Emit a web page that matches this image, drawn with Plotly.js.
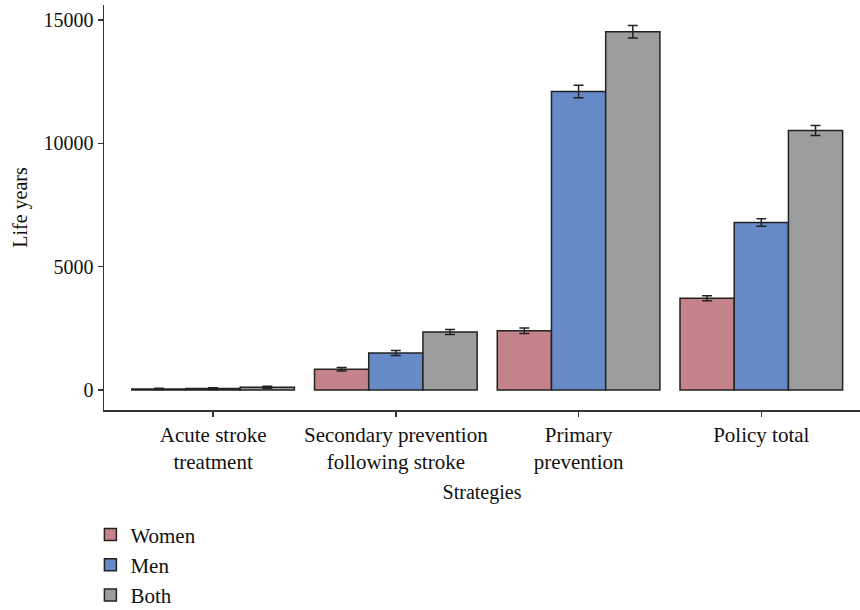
<!DOCTYPE html>
<html>
<head>
<meta charset="utf-8">
<script src="https://cdn.plot.ly/plotly-3.0.1.min.js"></script>
<style>html,body{margin:0;padding:0;background:#fff;}#chart{width:860px;height:610px;}</style>
</head>
<body>
<div id="chart"></div>
<script>
const categories = ["Acute stroke<br>treatment", "Secondary prevention<br>following stroke", "Primary<br>prevention", "Policy total"];
const seriesNames = ["Women", "Men", "Both"];
const womenValues = [45, 840, 2400, 3720];
const menValues = [60, 1500, 12100, 6790];
const bothValues = [110, 2350, 14520, 10520];
const womenErrors = [30, 70, 110, 100];
const menErrors = [35, 100, 250, 150];
const bothErrors = [40, 100, 250, 200];
const yTickVals = [0, 5000, 10000, 15000];

const colors = ["#C4838B", "#6789C8", "#9C9D9F"];
const values = [womenValues, menValues, bothValues];
const errors = [womenErrors, menErrors, bothErrors];

const traces = seriesNames.map((name, i) => ({
  type: "bar",
  name: name,
  x: categories,
  y: values[i],
  marker: {color: colors[i], line: {color: "#222", width: 1.5}},
  error_y: {type: "data", array: errors[i], visible: true, color: "#222", thickness: 1.5, width: 5}
}));

const font = {family: "Liberation Serif, Times New Roman, serif", color: "#111"};

const layout = {
  width: 860, height: 610,
  margin: {l: 104, r: 0, t: 5, b: 200, autoexpand: false},
  paper_bgcolor: "#fff", plot_bgcolor: "#fff",
  barmode: "group", bargap: 0.11, bargroupgap: 0,
  font: Object.assign({size: 20}, font),
  showlegend: true,
  legend: {x: -0.018, xref: "paper", y: 0.157, yref: "container", xanchor: "left", yanchor: "top", orientation: "v", font: Object.assign({size: 21}, font), tracegroupgap: 6},
  xaxis: {
    range: [-0.597, 3.54],
    automargin: false,
    showline: true, linecolor: "#333", linewidth: 1.5,
    ticks: "outside", ticklen: 5, tickcolor: "#333", tickwidth: 1.5,
    showgrid: false, zeroline: false,
    tickfont: Object.assign({size: 21}, font),
    title: {text: "Strategies", font: Object.assign({size: 20}, font), standoff: 12}
  },
  yaxis: {
    range: [-811, 15606],
    automargin: false,
    tickvals: yTickVals, ticktext: yTickVals.map(String),
    showline: true, linecolor: "#333", linewidth: 1.5,
    ticks: "outside", ticklen: 5, tickcolor: "#333", tickwidth: 1.5,
    showgrid: false, zeroline: false,
    tickfont: Object.assign({size: 20}, font),
    title: {text: "Life years", font: Object.assign({size: 20}, font), standoff: 10}
  }
};

Plotly.newPlot("chart", traces, layout, {displayModeBar: false, staticPlot: true});
</script>
</body>
</html>
